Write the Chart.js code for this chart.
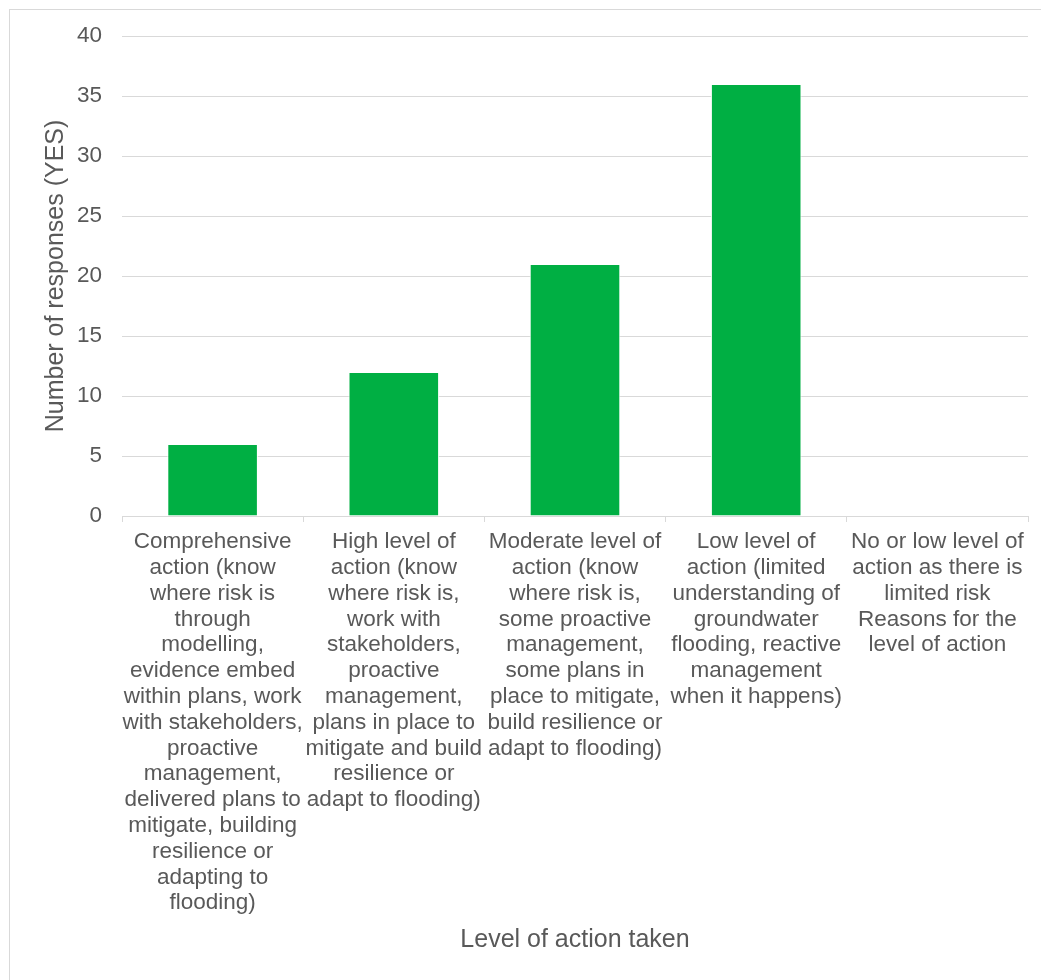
<!DOCTYPE html>
<html>
<head>
<meta charset="utf-8">
<script src="https://cdn.jsdelivr.net/npm/chart.js@4"></script>
<style>
  html, body { margin: 0; padding: 0; background: #ffffff; overflow: hidden; }
  #wrap { position: relative; width: 1041px; height: 980px; }
  #frame { position: absolute; left: 9px; top: 9px; width: 1100px; height: 1100px;
           border: 1px solid #d9d9d9; box-sizing: border-box; }
  #c { position: absolute; left: 0; top: 0; }
</style>
</head>
<body>
<div id="wrap">
  <div id="frame"></div>
  <canvas id="c" width="1041" height="980"></canvas>
</div>
<script>
// Survey categories, one array of wrapped lines per category
const categories = [
  ["Comprehensive", "action (know", "where risk is", "through", "modelling,", "evidence embed",
   "within plans, work", "with stakeholders,", "proactive", "management,", "delivered plans to",
   "mitigate, building", "resilience or", "adapting to", "flooding)"],
  ["High level of", "action (know", "where risk is,", "work with", "stakeholders,", "proactive",
   "management,", "plans in place to", "mitigate and build", "resilience or", "adapt to flooding)"],
  ["Moderate level of", "action (know", "where risk is,", "some proactive", "management,",
   "some plans in", "place to mitigate,", "build resilience or", "adapt to flooding)"],
  ["Low level of", "action (limited", "understanding of", "groundwater", "flooding, reactive",
   "management", "when it happens)"],
  ["No or low level of", "action as there is", "limited risk", "Reasons for the", "level of action"]
];

// Number of YES responses per category
const responses = [6, 12, 21, 36, 0];

// Value axis range and step
const yMin = 0;
const yMax = 40;
const yStep = 5;

const xTitle = "Level of action taken";
const yTitle = "Number of responses (YES)";

const FONT = "'Liberation Sans', Arial, sans-serif";
const TEXT = "#595959";
const GRID = "#d9d9d9";

new Chart(document.getElementById('c'), {
  type: 'bar',
  data: {
    labels: categories,
    datasets: [{
      data: responses,
      backgroundColor: '#00AF43',
      borderColor: '#ffffff',
      borderWidth: 1,
      barPercentage: 0.5,
      categoryPercentage: 1.0
    }]
  },
  options: {
    responsive: false,
    animation: false,
    events: [],
    layout: { padding: { left: 0, right: 13, top: 36, bottom: 0 } },
    plugins: { legend: { display: false }, tooltip: { enabled: false } },
    scales: {
      x: {
        offset: true,
        grid: { display: true, drawOnChartArea: false, drawTicks: true, tickLength: 6,
                color: GRID, offset: true },
        border: { display: true, color: GRID, width: 1 },
        ticks: {
          color: TEXT, font: { family: FONT, size: 22.5, lineHeight: 1.147 },
          padding: 7, maxRotation: 0, minRotation: 0, autoSkip: false
        },
        title: {
          display: true, text: xTitle, color: TEXT,
          font: { family: FONT, size: 25 }, padding: { top: 0, bottom: 25 }
        },
        afterFit: (s) => { s.height = 464; }
      },
      y: {
        min: yMin, max: yMax,
        grid: { color: GRID, lineWidth: 1, drawTicks: false },
        border: { display: false },
        ticks: {
          stepSize: yStep, color: TEXT, padding: 20,
          font: { family: FONT, size: 22.5 }
        },
        title: {
          display: true, text: yTitle, color: TEXT,
          font: { family: FONT, size: 25 }, padding: { top: 41, bottom: 0 }
        },
        afterFit: (s) => { s.width = 122; }
      }
    }
  }
});
</script>
</body>
</html>
